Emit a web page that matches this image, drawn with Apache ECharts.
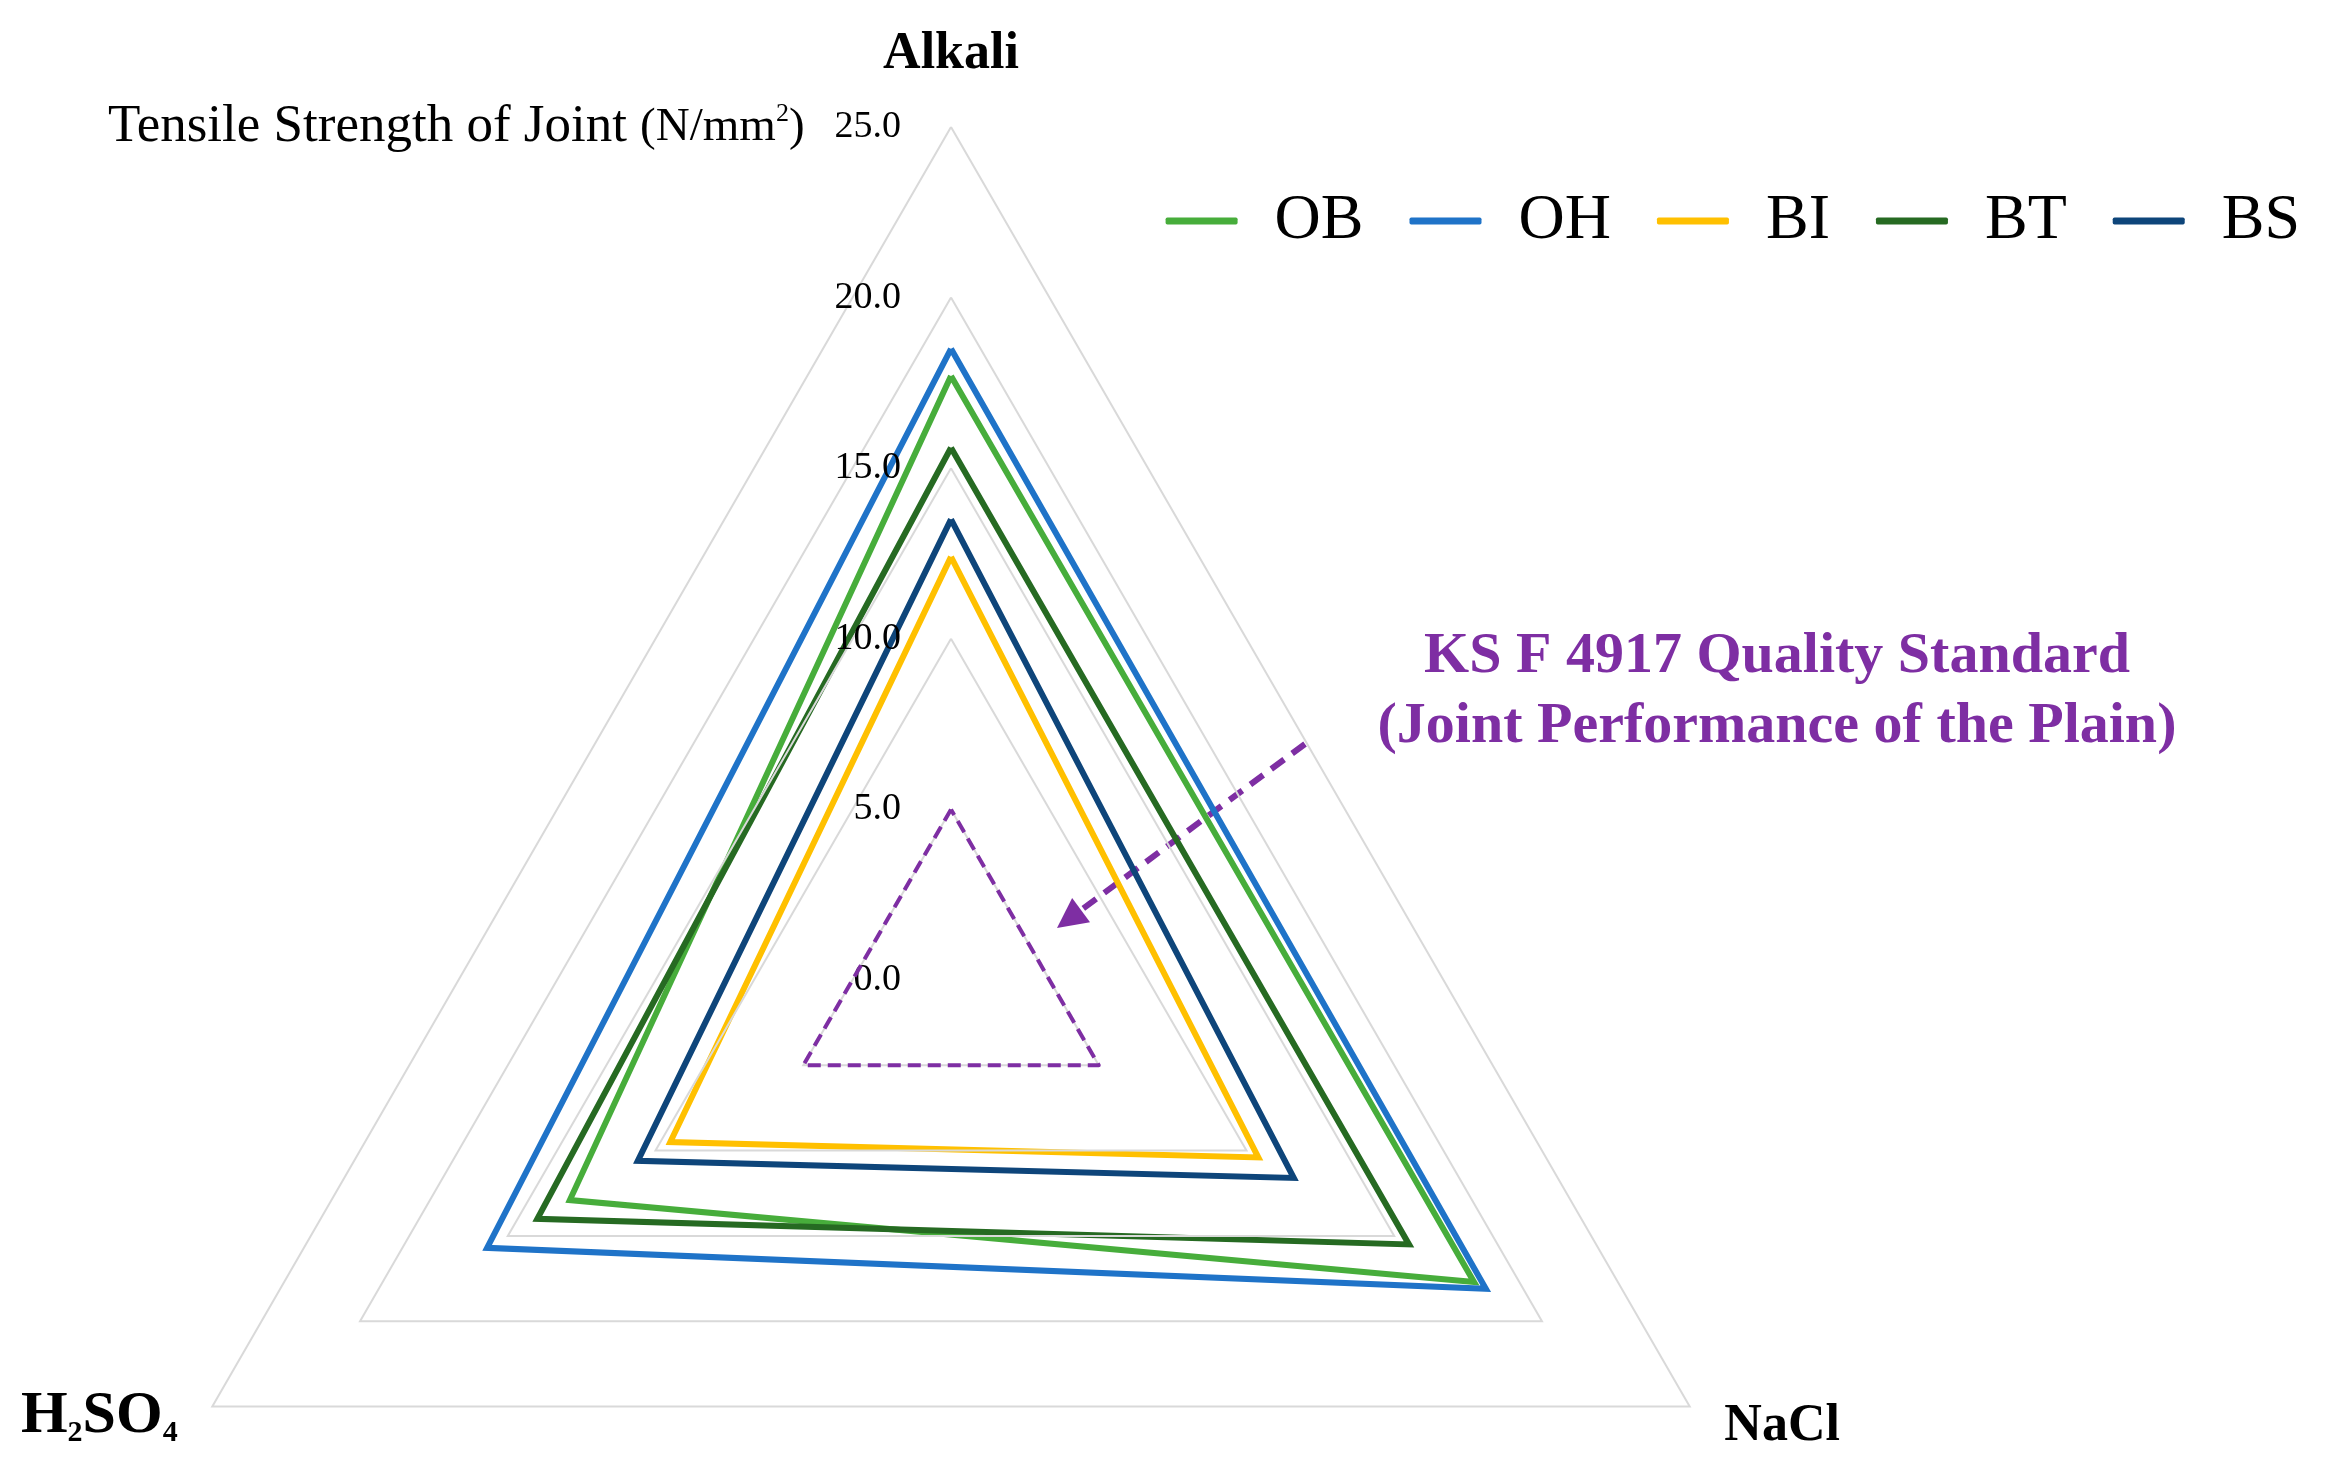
<!DOCTYPE html>
<html>
<head>
<meta charset="utf-8">
<script src="https://cdn.jsdelivr.net/npm/echarts@6/dist/echarts.min.js"></script>
<style>
  html, body { margin: 0; padding: 0; background: #fff; }
  #chart { width: 2326px; height: 1481px; }
</style>
</head>
<body>
<div id="chart"></div>
<script>
// data (order: Alkali, H2SO4, NaCl)
const indicators = ['Alkali', 'H2SO4', 'NaCl'];
const axisMax = 25;
const seriesNames = ['OB', 'OH', 'BI', 'BT', 'BS'];
const OB = [17.7, 12.9, 17.7];
const OH = [18.5, 15.7, 18.1];
const BI = [12.4, 9.5, 10.4];
const BT = [15.6, 14.0, 15.5];
const BS = [13.5, 10.6, 11.6];
const ksStandard = [5, 5, 5];
const colors = ['#47ad3b', '#1f73c8', '#ffc000', '#266a22', '#0e457a'];
const purple = '#7e2ea3';

const serif = "'Liberation Serif', 'DejaVu Serif', serif";
const values = [OB, OH, BI, BT, BS];

var chart = echarts.init(document.getElementById('chart'));

// arrow from the annotation towards the dashed triangle
var arrowFrom = [1305, 744], arrowTo = [1057, 928];
var dx = arrowTo[0] - arrowFrom[0], dy = arrowTo[1] - arrowFrom[1];
var len = Math.sqrt(dx * dx + dy * dy);
var ux = dx / len, uy = dy / len;
var headLen = 30, headW = 15;
var bx = arrowTo[0] - ux * headLen, by = arrowTo[1] - uy * headLen;

var option = {
  backgroundColor: '#fff',
  color: colors,
  title: {
    text: '{m|Tensile Strength of Joint }{u|(N/mm}{sup|2}{u|)}',
    left: 103,
    top: 96,
    textStyle: {
      fontWeight: 'normal',
      rich: {
        m: { fontFamily: serif, fontSize: 53, fontWeight: 'normal', color: '#000' },
        u: { fontFamily: serif, fontSize: 47, fontWeight: 'normal', color: '#000' },
        sup: { fontFamily: serif, fontSize: 26, fontWeight: 'normal', color: '#000', verticalAlign: 'top', lineHeight: 46 }
      }
    }
  },
  legend: {
    data: seriesNames,
    right: 21,
    top: 184,
    icon: 'roundRect',
    itemWidth: 72,
    itemHeight: 7,
    itemGap: 46,
    textStyle: { fontFamily: serif, fontSize: 64, color: '#000', padding: [0, 0, 0, 32] }
  },
  radar: {
    center: [951, 980],
    radius: 853,
    startAngle: 90,
    shape: 'polygon',
    splitNumber: 5,
    z: 3,
    indicator: indicators.map(function (name, i) {
      var ind = { name: name, min: 0, max: axisMax };
      if (i === 0) {
        ind.axisLabel = {
          show: true,
          margin: 50,
          fontFamily: serif,
          fontSize: 38,
          color: '#000',
          formatter: function (v) { return v.toFixed(1); }
        };
      }
      return ind;
    }),
    axisName: {
      color: '#000',
      fontFamily: serif,
      fontSize: 52,
      fontWeight: 'bold',
      formatter: function (name) {
        if (name === 'H2SO4') return '{b|H}{s|2}{b|SO}{s|4}';
        if (name === 'Alkali') return '{a|Alkali}';
        return '{n|' + name + '}';
      },
      rich: {
        a: { fontFamily: serif, fontSize: 52, fontWeight: 'bold', color: '#000', padding: [0, 0, 6, 0] },
        n: { fontFamily: serif, fontSize: 52, fontWeight: 'bold', color: '#000' },
        b: { fontFamily: serif, fontSize: 60, fontWeight: 'bold', color: '#000', lineHeight: 68, padding: [0, 0, 20, 0] },
        s: { fontFamily: serif, fontSize: 30, fontWeight: 'bold', color: '#000', verticalAlign: 'bottom', lineHeight: 32, padding: [0, 0, 12, 0] }
      }
    },
    axisNameGap: 40,
    axisLine: { show: false },
    axisTick: { show: false },
    axisLabel: { show: false },
    splitArea: { show: false },
    splitLine: { lineStyle: { color: '#d9d9d9', width: 2 } }
  },
  series: seriesNames.map(function (name, i) {
    return {
      name: name,
      type: 'radar',
      z: 2,
      symbol: 'none',
      lineStyle: { width: 6, color: colors[i], join: 'miter' },
      data: [{ value: values[i], name: name }]
    };
  }).concat([{
    name: 'KS F 4917',
    type: 'radar',
    z: 4,
    symbol: 'none',
    lineStyle: { width: 4, color: purple, type: [13, 7] },
    data: [{ value: ksStandard, name: 'KS F 4917' }]
  }]),
  graphic: [
    {
      type: 'text',
      x: 1777,
      y: 692,
      style: {
        text: 'KS F 4917 Quality Standard\n(Joint Performance of the Plain)',
        fill: purple,
        fontFamily: serif,
        fontSize: 58,
        fontWeight: 'bold',
        lineHeight: 70,
        align: 'center',
        verticalAlign: 'middle'
      }
    },
    {
      type: 'line',
      shape: { x1: arrowFrom[0], y1: arrowFrom[1], x2: bx, y2: by },
      style: { stroke: purple, lineWidth: 6, lineDash: [16, 10] }
    },
    {
      type: 'polygon',
      shape: {
        points: [
          arrowTo,
          [bx - uy * headW, by + ux * headW],
          [bx + uy * headW, by - ux * headW]
        ]
      },
      style: { fill: purple }
    }
  ]
};

chart.setOption(option);
</script>
</body>
</html>
